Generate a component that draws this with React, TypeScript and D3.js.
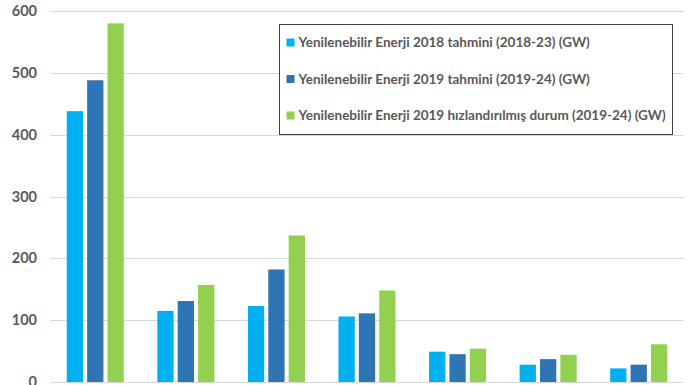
import { useEffect, useRef } from "react";
import * as d3 from "d3";

const groups = ["g1", "g2", "g3", "g4", "g5", "g6", "g7"];
const seriesNames = [
  "Yenilenebilir Enerji 2018 tahmini (2018-23) (GW)",
  "Yenilenebilir Enerji 2019 tahmini (2019-24) (GW)",
  "Yenilenebilir Enerji 2019 hızlandırılmış durum (2019-24) (GW)",
];
const seriesColors = ["#00B0F0", "#2E75B6", "#92D050"];
const forecast2018 = [438, 115, 123, 106, 49, 28, 22];
const forecast2019 = [488, 131, 182, 111, 45, 37, 28];
const accelerated2019 = [580, 157, 237, 148, 54, 44, 61];
const yTicks = [0, 100, 200, 300, 400, 500, 600];

const seriesValues = [forecast2018, forecast2019, accelerated2019];

export default function App() {
  const ref = useRef<SVGSVGElement>(null);

  useEffect(() => {
    if (!ref.current) return;
    const width = 696;
    const height = 385;
    const margin = { top: 11, right: 12, bottom: 3, left: 50 };

    const svg = d3.select(ref.current);
    svg.selectAll("*").remove();
    svg.attr("width", width).attr("height", height);

    const x0 = d3
      .scaleBand()
      .domain(groups)
      .range([margin.left, width - margin.right])
      .paddingInner(0.37)
      .paddingOuter(0.185);

    const x1 = d3
      .scaleBand()
      .domain(["0", "1", "2"])
      .range([0, x0.bandwidth()])
      .paddingInner(0.2);

    const y = d3
      .scaleLinear()
      .domain([0, 600])
      .range([height - margin.bottom, margin.top]);

    // gridlines
    svg
      .append("g")
      .selectAll("line")
      .data(yTicks)
      .enter()
      .append("line")
      .attr("x1", margin.left)
      .attr("x2", width - margin.right)
      .attr("y1", (d) => Math.round(y(d)) + 0.5)
      .attr("y2", (d) => Math.round(y(d)) + 0.5)
      .attr("stroke", "#d9d9d9")
      .attr("stroke-width", 1);

    // y labels
    svg
      .append("g")
      .selectAll("text")
      .data(yTicks)
      .enter()
      .append("text")
      .attr("x", 37)
      .attr("y", (d) => y(d))
      .attr("dy", "0.35em")
      .attr("text-anchor", "end")
      .attr("font-family", "Lato, 'Open Sans', sans-serif")
      .attr("font-weight", "bold")
      .attr("font-size", 14.5)
      .attr("fill", "#595959")
      .text((d) => String(d));

    // bars
    const g = svg
      .append("g")
      .selectAll("g")
      .data(groups)
      .enter()
      .append("g")
      .attr("transform", (d) => `translate(${x0(d)},0)`);

    g.selectAll("rect")
      .data((_, i) => seriesValues.map((vals, s) => ({ s, v: vals[i] })))
      .enter()
      .append("rect")
      .attr("x", (d) => x1(String(d.s)) ?? 0)
      .attr("y", (d) => y(d.v))
      .attr("width", x1.bandwidth())
      .attr("height", (d) => y(0) - y(d.v))
      .attr("fill", (d) => seriesColors[d.s]);

    // legend
    const lg = svg.append("g").attr("transform", "translate(279.5,24.5)");
    lg.append("rect")
      .attr("width", 393)
      .attr("height", 110)
      .attr("fill", "#fff")
      .attr("stroke", "#404040")
      .attr("stroke-width", 1);

    const items = lg
      .selectAll("g.item")
      .data(seriesNames)
      .enter()
      .append("g")
      .attr("class", "item")
      .attr("transform", (_, i) => `translate(7,${18 + i * 36.5})`);

    items
      .append("rect")
      .attr("x", 0)
      .attr("y", -4)
      .attr("width", 8)
      .attr("height", 8)
      .attr("fill", (_, i) => seriesColors[i]);

    items
      .append("text")
      .attr("x", 12)
      .attr("y", 0)
      .attr("dy", "0.35em")
      .attr("font-family", "Lato, 'Open Sans', sans-serif")
      .attr("font-weight", "bold")
      .attr("font-size", 13.5)
      .attr("fill", "#595959")
      .text((d) => d);
  }, []);

  return (
    <div style={{ position: "absolute", left: 0, top: 0 }}>
      <svg ref={ref} style={{ display: "block" }} />
    </div>
  );
}
